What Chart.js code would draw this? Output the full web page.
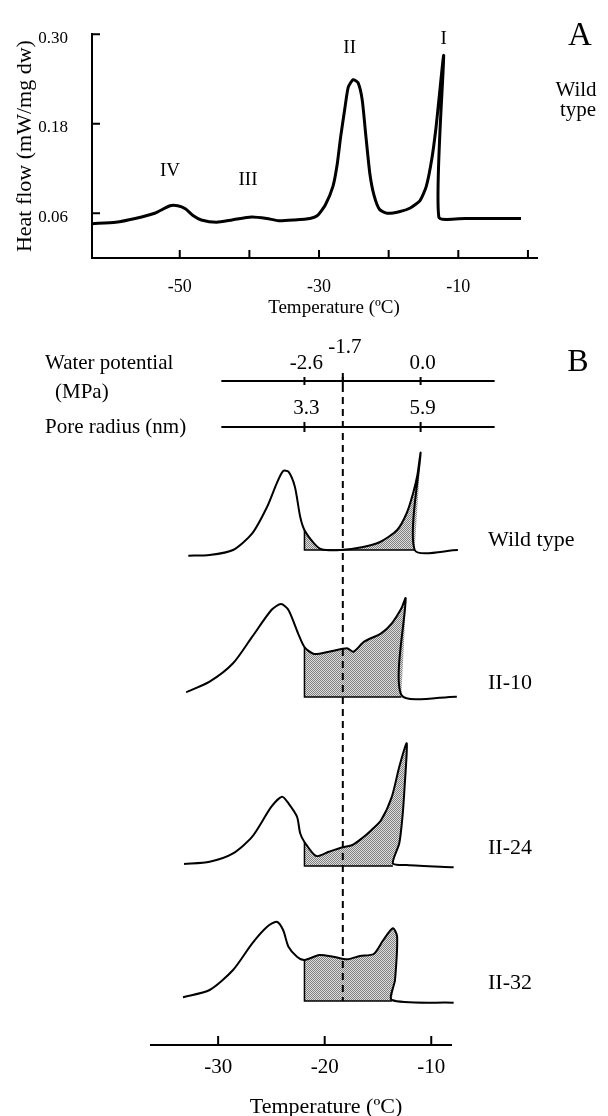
<!DOCTYPE html>
<html>
<head>
<meta charset="utf-8">
<script src="https://cdn.jsdelivr.net/npm/chart.js@4.4.1/dist/chart.umd.min.js"></script>
<style>
  body { margin: 0; background: #fff; }
  #wrap { position: relative; width: 608px; height: 1116px; }
  canvas { position: absolute; left: 0; top: 0; }
</style>
</head>
<body>
<div id="wrap">
  <canvas id="chartA" width="608" height="325"></canvas>
  <canvas id="chartB" width="608" height="1116"></canvas>
</div>
<script>
// Panel A - wild type heat flow trace
const tempA = [-62.5, -59.2, -56.4, -53.6, -51.4, -50.3, -49.2, -48.1, -46.9, -44.7, -42.5, -39.7, -37.5, -35.8, -33.6, -31.3,
  -30.2, -29.1, -28.0, -27.4, -26.9, -26.3, -25.8, -25.1, -24.4, -23.8, -23.3, -22.7, -22.1, -21.3, -20.2, -18.5,
  -16.9, -15.5, -14.6, -13.8, -13.2, -12.7, -12.1, -12.8, -9.0, -1.0];
const flowA = [0.046, 0.048, 0.053, 0.060, 0.070, 0.070, 0.066, 0.057, 0.051, 0.048, 0.051, 0.055, 0.053, 0.050, 0.051, 0.053,
  0.057, 0.071, 0.096, 0.125, 0.162, 0.200, 0.229, 0.239, 0.235, 0.212, 0.166, 0.113, 0.084, 0.065, 0.060, 0.062,
  0.067, 0.077, 0.096, 0.133, 0.175, 0.220, 0.271, 0.055, 0.053, 0.053];
const yTicksA = [0.06, 0.18, 0.30];
const xTicksA = [-50, -40, -30, -20, -10, 0];
const xLabelsA = [-50, -30, -10];
const peakNames = ['IV', 'III', 'II', 'I'];
const peakLabelT = [-51.4, -40.2, -25.6, -12.1];
const peakLabelY = [0.116, 0.104, 0.282, 0.294];

// Panel B - four lines, heights above each trace's own baseline (arbitrary units)
const lineNames = ['Wild type', 'II-10', 'II-24', 'II-32'];
const tempWT = [-32.8, -30.8, -28.6, -26.8, -25.4, -24.5, -23.9, -23.4, -22.8, -22.3, -21.9, -21.0, -20.3, -18.5, -16.4, -14.8,
  -13.2, -12.3, -11.7, -11.3, -11.0, -11.55, -7.5];
const flowWT = [-5.7, -5, 0, 16.7, 43.3, 66.7, 79, 78.3, 63.3, 33.3, 20, 6.7, 0.7, 0, 3, 8, 20, 37, 57, 75, 97, 0, 0];
const tempII10 = [-33.0, -30.8, -28.6, -26.8, -25.0, -24.1, -23.4, -22.5, -21.9, -21.0, -19.6, -17.9, -17.3, -16.3, -14.7, -13.7,
  -12.8, -12.4, -12.8, -7.6];
const flowII10 = [4.7, 15.3, 33.7, 60.3, 87, 93, 87, 63.7, 50, 43, 45.3, 48.7, 45.3, 55.3, 63.7, 73.7, 88.7, 98.7, 2, 0.3];
const tempII24 = [-33.2, -30.8, -28.6, -26.8, -25.0, -24.0, -23.4, -22.6, -22.3, -21.9, -20.8, -19.6, -18.3, -17.4, -16.5, -15.6,
  -14.7, -13.7, -13.0, -12.3, -12.5, -12.7, -13.0, -13.6, -12.3, -7.9];
const flowII24 = [2, 4.3, 12.7, 29.3, 59.3, 69.3, 62.7, 49.3, 32.7, 24, 10, 14.3, 18.7, 21, 27.7, 36, 46, 69.3, 99.3, 122.7,
  79.3, 49.3, 22.7, 2.7, 1, -1.3];
const tempII32 = [-33.3, -30.8, -28.6, -26.8, -25.4, -24.5, -23.9, -23.4, -22.6, -21.9, -20.5, -19.2, -17.9, -16.7, -15.4, -14.5,
  -13.6, -13.2, -13.4, -13.7, -7.9];
const flowII32 = [3.7, 11, 31, 57.7, 74.3, 79.3, 71, 54.3, 44.3, 41, 46, 44.3, 41.7, 45, 47, 61, 72.7, 64.3, 21, 1, -1.7];
const xTicksB = [-30, -20, -10];
const wpTicks = ['-2.6', '-1.7', '0.0'];
const wpTemps = [-21.9, -18.3, -11.0];
const prTicks = ['3.3', '5.9'];
const prTemps = [-21.9, -11.0];
const shadeFrom = -21.9;   // -2.6 MPa
const cutTemp = -18.3;     // -1.7 MPa

// layout
const SERIF = "'Liberation Serif', 'Times New Roman', serif";
const offsetsB = [495, 348, 179, 44];
const nameRise = [10, 14, 18, 18];

function font(size) { return size + 'px ' + SERIF; }
function text(ctx, str, x, y, size, align) {
  ctx.font = font(size);
  ctx.textAlign = align || 'center';
  ctx.textBaseline = 'middle';
  ctx.fillStyle = '#000';
  ctx.fillText(str, x, y);
}

// grey dot screen for the shaded areas
function stipple() {
  const c = document.createElement('canvas');
  c.width = 2; c.height = 2;
  const g = c.getContext('2d');
  g.fillStyle = '#dedede'; g.fillRect(0, 0, 2, 2);
  g.fillStyle = '#808080'; g.fillRect(0, 0, 1, 1); g.fillRect(1, 1, 1, 1);
  return g.createPattern(c, 'repeat');
}

// ---------- Panel A ----------
const panelA = {
  id: 'panelA',
  afterDraw(chart) {
    const {ctx, chartArea: a, scales: {x, y}} = chart;
    ctx.save();
    ctx.strokeStyle = '#000';
    ctx.lineWidth = 2;
    ctx.beginPath();
    xTicksA.forEach(v => { const p = x.getPixelForValue(v); ctx.moveTo(p, a.bottom); ctx.lineTo(p, a.bottom - 8); });
    yTicksA.forEach(v => { const p = y.getPixelForValue(v); ctx.moveTo(a.left, p); ctx.lineTo(a.left + 8, p); });
    ctx.stroke();
    peakNames.forEach((n, i) => text(ctx, n, x.getPixelForValue(peakLabelT[i]), y.getPixelForValue(peakLabelY[i]), 19));
    text(ctx, 'Temperature (ºC)', 334, 308, 19);
    text(ctx, 'A', 580, 36, 33);
    text(ctx, 'Wild', 576, 90, 21);
    text(ctx, 'type', 578, 110, 21);
    ctx.restore();
  }
};

new Chart(document.getElementById('chartA'), {
  type: 'line',
  data: {
    datasets: [{
      data: tempA.map((t, i) => ({x: t, y: flowA[i]})),
      borderColor: '#000',
      borderWidth: 3,
      pointRadius: 0,
      tension: 0.2,
      fill: false
    }]
  },
  options: {
    responsive: false,
    animation: false,
    devicePixelRatio: 1,
    layout: {padding: {left: 0, right: 71, top: 16, bottom: 0}},
    plugins: {legend: {display: false}, tooltip: {enabled: false}},
    scales: {
      x: {
        type: 'linear', min: -62.6, max: 1.3,
        grid: {display: false, drawTicks: false},
        border: {color: '#000', width: 2},
        afterBuildTicks: s => { s.ticks = xTicksA.map(v => ({value: v})); },
        ticks: {
          callback: v => xLabelsA.includes(v) ? String(v) : '',
          font: {family: SERIF, size: 18}, color: '#000', padding: 18, maxRotation: 0, autoSkip: false
        },
        afterFit: s => { s.height = 67; }
      },
      y: {
        min: 0, max: 0.30,
        grid: {display: false, drawTicks: false},
        border: {color: '#000', width: 2},
        afterBuildTicks: s => { s.ticks = yTicksA.map(v => ({value: v})); },
        ticks: {
          callback: v => v.toFixed(2),
          font: {family: SERIF, size: 17}, color: '#000', padding: 24, labelOffset: 4
        },
        title: {display: true, text: 'Heat flow (mW/mg dw)', font: {family: SERIF, size: 22}, color: '#000', padding: {top: 12}},
        afterFit: s => { s.width = 92; }
      }
    }
  },
  plugins: [panelA]
});

// ---------- Panel B ----------
function dropEnd(t) {
  let i = 0;
  while (i < t.length - 1 && t[i + 1] >= t[i]) i++;
  while (i < t.length - 1 && t[i + 1] < t[i]) i++;
  return i;
}

const dots = stipple();
const seriesB = [[tempWT, flowWT], [tempII10, flowII10], [tempII24, flowII24], [tempII32, flowII32]];
const datasetsB = [];
const shadeSets = [];
seriesB.forEach(([t, h], k) => {
  const off = offsetsB[k];
  const pts = t.map((v, i) => ({x: v, y: h[i] + off}));
  const s = t.indexOf(shadeFrom);
  const e = dropEnd(t);
  datasetsB.push({data: pts, borderColor: '#000', borderWidth: 2, pointRadius: 0, tension: 0.25, fill: false, order: 0, clip: false});
  shadeSets.push({index: datasetsB.length, base: off});
  datasetsB.push({data: pts.slice(s, e + 1), borderColor: 'rgba(0,0,0,0)', borderWidth: 0,
    pointRadius: 0, tension: 0.25, fill: false, order: 2, clip: false});
  datasetsB.push({data: [{x: t[e], y: off}, {x: shadeFrom, y: off}, {x: shadeFrom, y: h[s] + off}],
    borderColor: '#000', borderWidth: 1.5, pointRadius: 0, tension: 0, fill: false, order: 1, clip: false});
});

// fill each shaded piece down to its own baseline, following the library's curve
const shadeFill = {
  id: 'shadeFill',
  beforeDatasetsDraw(chart) {
    const {ctx, chartArea, scales: {y}} = chart;
    ctx.save();
    ctx.fillStyle = dots;
    shadeSets.forEach(({index, base}) => {
      const meta = chart.getDatasetMeta(index);
      const line = meta.dataset;
      const pts = meta.data;
      line.updateControlPoints(chartArea, 'x');
      const by = y.getPixelForValue(base);
      ctx.beginPath();
      line.path(ctx);
      ctx.lineTo(pts[pts.length - 1].x, by);
      ctx.lineTo(pts[0].x, by);
      ctx.closePath();
      ctx.fill();
    });
    ctx.restore();
  }
};

const panelB = {
  id: 'panelB',
  afterDraw(chart) {
    const {ctx, chartArea: a, scales: {x, y}} = chart;
    ctx.save();
    ctx.strokeStyle = '#000';
    // inward ticks on the temperature axis
    ctx.lineWidth = 2;
    ctx.beginPath();
    xTicksB.forEach(v => { const p = x.getPixelForValue(v); ctx.moveTo(p, a.bottom); ctx.lineTo(p, a.bottom - 9); });
    ctx.stroke();

    // water potential and pore radius scales
    const wpY = a.top + 1, prY = a.top + 47;
    const l = x.getPixelForValue(-29.7), r = x.getPixelForValue(-4.05);
    ctx.beginPath();
    ctx.moveTo(l, wpY); ctx.lineTo(r, wpY);
    ctx.moveTo(l, prY); ctx.lineTo(r, prY);
    wpTemps.forEach(v => { const p = x.getPixelForValue(v); ctx.moveTo(p, wpY - 4); ctx.lineTo(p, wpY + 4); });
    prTemps.forEach(v => { const p = x.getPixelForValue(v); ctx.moveTo(p, prY - 5); ctx.lineTo(p, prY + 5); });
    ctx.stroke();
    wpTicks.forEach((s, i) => {
      const p = x.getPixelForValue(wpTemps[i]);
      text(ctx, s, p + 2, wpY - (s === '-1.7' ? 34 : 18), 21);
    });
    prTicks.forEach((s, i) => text(ctx, s, x.getPixelForValue(prTemps[i]) + 2, prY - 19, 21));
    text(ctx, 'Water potential', 45, 363, 21, 'left');
    text(ctx, '(MPa)', 55, 392, 21, 'left');
    text(ctx, 'Pore radius (nm)', 45, 427, 21, 'left');
    text(ctx, 'B', 578, 363, 32);

    // dashed line at -1.7 MPa
    const cx = x.getPixelForValue(cutTemp);
    ctx.setLineDash([7, 5]);
    ctx.beginPath();
    ctx.moveTo(cx, wpY - 8);
    ctx.lineTo(cx, y.getPixelForValue(offsetsB[3]));
    ctx.stroke();
    ctx.setLineDash([]);

    lineNames.forEach((n, k) => text(ctx, n, 488, y.getPixelForValue(offsetsB[k] + nameRise[k]), 22, 'left'));
    text(ctx, 'Temperature (ºC)', 326, 1107, 22);
    ctx.restore();
  }
};

new Chart(document.getElementById('chartB'), {
  type: 'line',
  data: {datasets: datasetsB},
  options: {
    responsive: false,
    animation: false,
    devicePixelRatio: 1,
    layout: {padding: {left: 151, right: 156.5, top: 380, bottom: 0}},
    plugins: {legend: {display: false}, tooltip: {enabled: false}},
    scales: {
      x: {
        type: 'linear', min: -36.3, max: -8.1,
        grid: {display: false, drawTicks: false},
        border: {color: '#000', width: 2},
        afterBuildTicks: s => { s.ticks = xTicksB.map(v => ({value: v})); },
        ticks: {font: {family: SERIF, size: 21}, color: '#000', padding: 10, maxRotation: 0, autoSkip: false},
        afterFit: s => { s.height = 71; }
      },
      y: {min: 0, max: 665, display: false}
    }
  },
  plugins: [shadeFill, panelB]
});
</script>
</body>
</html>
